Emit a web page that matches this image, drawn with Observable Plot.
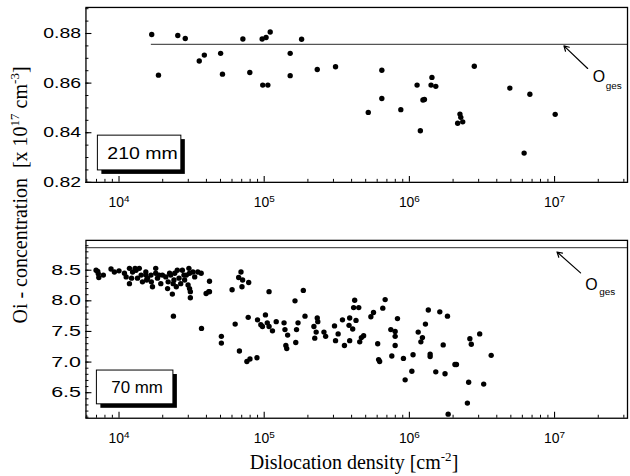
<!DOCTYPE html>
<html><head><meta charset="utf-8">
<script src="https://cdn.jsdelivr.net/npm/d3@7"></script>
<script src="https://cdn.jsdelivr.net/npm/@observablehq/plot@0.6"></script>
<style>
body{margin:0;background:#fff}
#wrap{position:relative;width:630px;height:476px;overflow:hidden;background:#fff}
#wrap > svg{position:absolute;left:0}
</style>
</head><body><div id="wrap"></div>
<script>
// ---- data (dislocation density [cm^-2], Oi concentration) ----
const topPoints = [
 [1.68e4,0.8796],[1.87e4,0.8632],[2.54e4,0.8792],[2.86e4,0.8780],[3.57e4,0.8689],[3.87e4,0.8713],
 [5.01e4,0.8720],[5.16e4,0.8636],[7.13e4,0.8778],[7.96e4,0.8643],[9.68e4,0.8778],[1.03e5,0.8784],
 [1.10e5,0.8806],[9.77e4,0.8592],[1.06e5,0.8592],[1.51e5,0.8720],[1.51e5,0.8630],[1.81e5,0.8777],
 [2.32e5,0.8655],[3.10e5,0.8666],[5.21e5,0.8482],[6.46e5,0.8652],[6.46e5,0.8538],[8.73e5,0.8493],
 [1.13e6,0.8592],[1.24e6,0.8532],[1.27e6,0.8534],[1.19e6,0.8408],[1.43e6,0.8623],[1.41e6,0.8592],
 [1.52e6,0.8587],[2.23e6,0.8475],[2.26e6,0.8462],[2.15e6,0.8438],[2.33e6,0.8444],[2.80e6,0.8668],
 [4.92e6,0.8580],[6.76e6,0.8555],[6.17e6,0.8318],[1.01e7,0.8474]
];
const bottomPoints = [
 [6.95e3,8.50],[7.14e3,8.48],[7.26e3,8.38],[7.2e3,8.44],[7.80e3,8.42],[8.81e3,8.52],[9.29e3,8.47],
 [1.00e4,8.49],[1.09e4,8.45],[1.12e4,8.39],[1.18e4,8.53],[1.18e4,8.28],[1.22e4,8.37],[1.24e4,8.47],
 [1.29e4,8.53],[1.31e4,8.50],[1.34e4,8.37],[1.38e4,8.53],[1.42e4,8.42],[1.45e4,8.31],[1.53e4,8.47],
 [1.53e4,8.42],[1.55e4,8.34],[1.57e4,8.37],[1.66e4,8.42],[1.67e4,8.31],[1.70e4,8.23],[1.79e4,8.53],
 [1.79e4,8.45],[1.84e4,8.37],[1.89e4,8.42],[1.94e4,8.28],[1.99e4,8.42],[2.10e4,8.39],[2.16e4,8.20],
 [2.18e4,8.31],[2.23e4,8.45],[2.27e4,8.42],[2.33e4,8.11],[2.36e4,8.28],[2.39e4,8.34],[2.42e4,8.45],
 [2.37e4,7.75],[2.48e4,8.23],[2.52e4,8.50],[2.59e4,8.37],[2.66e4,8.28],[2.73e4,8.50],[2.80e4,8.42],
 [2.83e4,8.34],[2.91e4,8.42],[2.99e4,8.26],[3.03e4,8.53],[3.06e4,8.45],[3.06e4,8.20],[3.10e4,8.15],
 [3.10e4,8.05],[3.23e4,8.47],[3.32e4,8.39],[3.49e4,8.47],[3.68e4,8.45],[3.70e4,7.55],[3.98e4,8.12],
 [4.15e4,8.15],[4.20e4,8.32],[4.20e4,8.15],[5.07e4,7.42],[5.07e4,7.31],[6.01e4,8.18],[6.31e4,7.62],
 [6.67e4,8.38],[6.92e4,8.47],[7.10e4,8.34],[7.03e4,8.23],[7.82e4,8.30],[6.75e4,7.18],[7.60e4,7.01],
 [7.98e4,7.05],[8.91e4,7.07],[7.76e4,7.73],[8.99e4,7.69],[9.48e4,7.61],[9.73e4,7.58],[1.02e5,7.77],
 [1.05e5,7.64],[1.08e5,7.58],[1.14e5,7.51],[1.08e5,8.15],[1.21e5,7.66],[1.37e5,7.64],[1.39e5,7.53],
 [1.45e5,7.44],[1.41e5,7.27],[1.43e5,7.22],[1.63e5,8.00],[1.86e5,8.17],[1.91e5,7.75],[1.71e5,7.64],
 [1.67e5,7.53],[1.65e5,7.32],[2.20e5,7.58],[2.32e5,7.72],[2.34e5,7.66],[2.28e5,7.49],[2.23e5,7.39],
 [2.58e5,7.49],[2.65e5,7.42],[3.05e5,7.59],[3.23e5,7.46],[3.10e5,7.35],[3.46e5,7.69],[3.57e5,7.27],
 [3.88e5,7.72],[3.84e5,7.60],[4.07e5,7.54],[3.88e5,7.35],[4.20e5,8.01],[4.13e5,7.89],[4.48e5,7.89],
 [4.29e5,7.68],[4.55e5,7.33],[4.67e5,7.40],[4.84e5,7.43],[5.43e5,7.74],[5.66e5,7.81],[6.05e5,7.30],
 [6.14e5,7.04],[6.24e5,7.01],[6.56e5,7.88],[6.81e5,8.02],[7.45e5,7.53],[7.57e5,7.10],[8.28e5,7.71],
 [7.98e5,7.50],[7.98e5,7.42],[7.98e5,7.27],[9.10e5,7.06],[9.35e5,6.71],[1.04e6,6.85],[1.06e6,7.12],
 [1.15e6,7.49],[1.23e6,7.40],[1.20e6,7.33],[1.29e6,7.62],[1.35e6,7.85],[1.39e6,7.13],[1.39e6,7.09],
 [1.52e6,6.84],[1.62e6,7.82],[1.71e6,7.28],[1.76e6,6.81],[1.83e6,7.75],[1.85e6,6.15],[2.06e6,6.96],
 [2.11e6,6.96],[2.51e6,6.33],[2.56e6,6.67],[2.61e6,7.38],[2.67e6,7.29],[3.05e6,7.46],[3.25e6,6.64],
 [3.66e6,7.11]
];
const topOges = 0.8756, topOgesStart = 1.67e4;
const bottomOges = 8.868;
const xMajor = [1e4, 1e5, 1e6, 1e7];
const topYTicks = [0.82, 0.84, 0.86, 0.88];
const bottomYTicks = [6.5, 7.0, 7.5, 8.0, 8.5];
const panelLabels = ["210 mm", "70 mm"];
const xTitle = "Dislocation density [cm";
const yTitle = "Oi - concentration  [x 10";

// ---- layout ----
const xDomain = [5.92e3, 3.18e7];
const W = 634, ML = 86, MR = 3;
const PW = W - ML - MR;
const xMinor = [];
for (let e = 3; e <= 7; e++) for (let m = 2; m <= 9; m++) { const v = m * 10 ** e; if (v >= xDomain[0] && v <= xDomain[1]) xMinor.push(v); }

const font = "'Liberation Sans', Arial, sans-serif";
const wrap = document.getElementById("wrap");

function panel({pts, yDomain, yMajor, yMinor, height, mt, mb, yFmt, oges, ogesStart, arrow, oLab, gesLab}) {
  const PH = height - mt - mb;
  return Plot.plot({
    width: W, height, marginLeft: ML, marginRight: MR, marginTop: mt, marginBottom: mb,
    x: {type: "log", domain: xDomain},
    y: {domain: yDomain},
    style: {fontFamily: font, fontSize: "14px", background: "#fff", color: "#000"},
    marks: [
      Plot.ruleY([oges], {x1: ogesStart ?? xDomain[0], x2: xDomain[1], stroke: "#555", strokeWidth: 1.3}),
      Plot.tickX(xMajor, {x: d => d, insetTop: PH - 6, strokeWidth: 1.1}),
      Plot.tickX(xMinor, {x: d => d, insetTop: PH - 3, strokeWidth: 1}),
      Plot.tickY(yMajor, {y: d => d, insetRight: PW - 6, strokeWidth: 1.1}),
      Plot.tickY(yMinor, {y: d => d, insetRight: PW - 3, strokeWidth: 1}),
      Plot.axisX({ticks: xMajor, tickSize: 0, tickPadding: 15, tickFormat: d => "10^" + Math.round(Math.log10(d))}),
      Plot.axisY({ticks: yMajor, tickSize: 0, tickPadding: 5, tickFormat: yFmt}),
      Plot.dot(pts, {x: d => d[0], y: d => d[1], r: 2.7, fill: "#000"}),
      Plot.arrow([arrow], {x1: d => d[0], y1: d => d[1], x2: d => d[2], y2: d => d[3], stroke: "#000", strokeWidth: 1.2, headLength: 7}),
      Plot.text([oLab], {x: d => d[0], y: d => d[1], text: () => "O", textAnchor: "start", fontSize: 16}),
      Plot.text([gesLab], {x: d => d[0], y: d => d[1], text: () => "ges", textAnchor: "start", fontSize: 10}),
      Plot.frame({stroke: "#000", strokeWidth: 1.3})
    ]
  });
}

const topSvg = panel({
  pts: topPoints, yDomain: [0.82, 0.8905], yMajor: topYTicks,
  yMinor: d3.range(0, 15).map(i => 0.82 + i * 0.005),
  height: 220, mt: 7, mb: 37, yFmt: d3.format(".2f"),
  oges: topOges, ogesStart: topOgesStart,
  arrow: [1.69e7, 0.8659, 1.16e7, 0.8750],
  oLab: [1.83e7, 0.8624], gesLab: [2.25e7, 0.8590]
});
const botSvg = panel({
  pts: bottomPoints, yDomain: [6.083, 8.987], yMajor: bottomYTicks,
  yMinor: d3.range(0, 29).map(i => 6.1 + i * 0.1),
  height: 256, mt: 20, mb: 57, yFmt: d3.format(".1f"),
  oges: bottomOges, ogesStart: null,
  arrow: [1.51e7, 8.456, 1.04e7, 8.797],
  oLab: [1.63e7, 8.262], gesLab: [2.03e7, 8.150]
});
topSvg.style.top = "0px";
botSvg.style.top = "220px";
wrap.appendChild(topSvg);
wrap.appendChild(botSvg);

function finish(svg, yLen) {
  const s = d3.select(svg);
  s.selectAll('g[aria-label="x-axis tick label"] text').each(function () {
    const e = this.textContent.split("^")[1];
    const t = d3.select(this);
    t.text("10");
    t.append("tspan").attr("dy", "-0.55em").attr("font-size", "10px").text(e);
  });
  s.selectAll('g[aria-label="y-axis tick label"] text')
    .attr("textLength", yLen).attr("lengthAdjust", "spacingAndGlyphs");
}
finish(topSvg, 38);
finish(botSvg, 30);

function box(svg, x, y, w, h, label, tx, ty, tl) {
  const g = d3.select(svg).append("g").attr("text-anchor", "start");
  g.append("rect").attr("x", x + 4).attr("y", y + 4).attr("width", w).attr("height", h).attr("fill", "#000");
  g.append("rect").attr("x", x).attr("y", y).attr("width", w).attr("height", h).attr("fill", "#fff").attr("stroke", "#000").attr("stroke-width", 1);
  g.append("text").attr("x", tx).attr("y", ty).attr("text-anchor", "start").attr("font-family", font).attr("font-size", 16)
    .attr("textLength", tl).attr("lengthAdjust", "spacingAndGlyphs").text(label);
}
box(topSvg, 98, 136, 84, 35, panelLabels[0], 108, 160, 71);
box(botSvg, 97, 151, 77, 34, panelLabels[1], 112, 174, 52);

// ---- axis titles ----
const ov = d3.select(wrap).append("svg").attr("width", 630).attr("height", 476).style("top", "0px").style("pointer-events", "none");
const serif = "'Liberation Serif', 'Times New Roman', serif";
const xt = ov.append("text").attr("x", 354).attr("y", 469).attr("text-anchor", "middle")
  .attr("font-family", serif).attr("font-size", 20).style("white-space", "pre");
xt.append("tspan").text(xTitle);
xt.append("tspan").attr("dy", -8).attr("font-size", 13).text("-2");
xt.append("tspan").attr("dy", 8).text("]");
const yt = ov.append("text").attr("transform", "translate(27,195) rotate(-90)").attr("text-anchor", "middle")
  .attr("font-family", serif).attr("font-size", 20).style("white-space", "pre");
yt.append("tspan").text(yTitle);
yt.append("tspan").attr("dy", -8).attr("font-size", 13).text("17");
yt.append("tspan").attr("dy", 8).text(" cm");
yt.append("tspan").attr("dy", -8).attr("font-size", 13).text("-3");
yt.append("tspan").attr("dy", 8).text("]");
</script></body></html>
